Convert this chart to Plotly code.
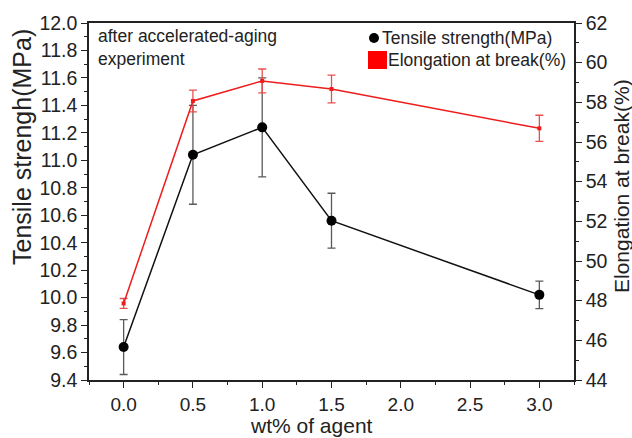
import plotly.graph_objects as go

# ---- data ----
wt = [0.0, 0.5, 1.0, 1.5, 3.0]
tensile = [9.64, 11.04, 11.24, 10.56, 10.02]
tensile_err = [0.20, 0.36, 0.36, 0.20, 0.10]
elong = [47.86, 58.07, 59.08, 58.67, 56.69]
elong_err = [0.25, 0.55, 0.60, 0.70, 0.66]

x_ticks = [0.0, 0.5, 1.0, 1.5, 2.0, 2.5, 3.0]
y1_ticks = [9.4 + 0.2 * i for i in range(14)]
y2_ticks = list(range(44, 63, 2))

FONT = "Liberation Sans, Arial, sans-serif"
AX = "#222222"
TXT = "#222222"

fig = go.Figure()

fig.add_trace(go.Scatter(
    x=wt, y=tensile, mode="lines+markers", name="Tensile strength(MPa)",
    line=dict(color="#111111", width=1.5),
    marker=dict(symbol="circle", size=10, color="#000000"),
    error_y=dict(type="data", array=tensile_err, visible=True, color="#5a5a5a", thickness=1.3, width=4),
    showlegend=False, yaxis="y",
))
fig.add_trace(go.Scatter(
    x=wt, y=elong, mode="lines+markers", name="Elongation at break(%)",
    line=dict(color="#ee1c1c", width=1.5),
    marker=dict(symbol="square", size=4, color="#ee1c1c"),
    error_y=dict(type="data", array=elong_err, visible=True, color="#e85050", thickness=1.3, width=4),
    showlegend=False, yaxis="y2",
))

L, R, T, B = 89, 58, 23, 58
W, H = 632, 438
pw = W - L - R
ph = H - T - B

def px_to_paper_x(px):
    return (px - L) / pw

def px_to_paper_y(py):
    return (H - B - py) / ph

fig.update_layout(
    width=W, height=H,
    margin=dict(l=L, r=R, t=T, b=B, pad=0, autoexpand=False),
    paper_bgcolor="white", plot_bgcolor="white",
    font=dict(family=FONT, color=TXT, size=19),
    showlegend=False,
    xaxis=dict(
        range=[-0.25, 3.25], tickvals=x_ticks, ticktext=[f"{v:.1f}" for v in x_ticks],
        automargin=False,
        showgrid=False, zeroline=False, showline=True, linecolor=AX, linewidth=1.5,
        mirror=True, ticks="outside", ticklen=6, tickwidth=1.3, tickcolor=AX,
        minor=dict(ticks="outside", ticklen=3.5, tickwidth=1.2, tickcolor=AX, dtick=0.25, tick0=0),
        tickfont=dict(size=19),
    ),
    yaxis=dict(
        range=[9.4, 12.0], tickvals=y1_ticks, ticktext=[f"{v:.1f}" for v in y1_ticks],
        automargin=False,
        showgrid=False, zeroline=False, showline=True, linecolor=AX, linewidth=1.5,
        ticks="outside", ticklen=6, tickwidth=1.3, tickcolor=AX,
        minor=dict(ticks="outside", ticklen=3.5, tickwidth=1.2, tickcolor=AX, dtick=0.1, tick0=9.4),
        tickfont=dict(size=19.5),
    ),
    yaxis2=dict(
        range=[44, 62], tickvals=y2_ticks, ticktext=[str(v) for v in y2_ticks],
        overlaying="y", side="right", anchor="x", automargin=False,
        showgrid=False, zeroline=False, showline=True, linecolor=AX, linewidth=1.5,
        ticks="outside", ticklen=6, tickwidth=1.3, tickcolor=AX,
        minor=dict(ticks="outside", ticklen=3.5, tickwidth=1.2, tickcolor=AX, dtick=1, tick0=44),
        tickfont=dict(size=19.5),
    ),
)

# axis titles (placed as in the reference, which are off-centre)
fig.add_annotation(xref="paper", yref="paper", x=px_to_paper_x(311), y=px_to_paper_y(425.5),
                   xanchor="center", yanchor="middle", showarrow=False, borderpad=0,
                   text="wt% of agent", font=dict(size=21, color=TXT))
fig.add_annotation(xref="paper", yref="paper", x=px_to_paper_x(22), y=px_to_paper_y(147),
                   xanchor="center", yanchor="middle", showarrow=False, textangle=-90,
                   text="Tensile strengh(MPa)", font=dict(size=25, color=TXT))
fig.add_annotation(xref="paper", yref="paper", x=px_to_paper_x(621), y=px_to_paper_y(186),
                   xanchor="center", yanchor="middle", showarrow=False, textangle=-90,
                   text="Elongation at break(%)", font=dict(size=21, color=TXT))

# annotation text
fig.add_annotation(
    xref="paper", yref="paper", x=px_to_paper_x(96), y=px_to_paper_y(48),
    xanchor="left", yanchor="middle", align="left", showarrow=False,
    text="after accelerated-aging<br>experiment", font=dict(size=17.5, color=TXT),
)

# manual legend
fig.add_shape(type="circle", xref="paper", yref="paper", xsizemode="pixel", ysizemode="pixel",
              xanchor=px_to_paper_x(374), yanchor=px_to_paper_y(38), x0=-5, x1=5, y0=-5, y1=5,
              fillcolor="#000000", line=dict(width=0))
fig.add_shape(type="rect", xref="paper", yref="paper", xsizemode="pixel", ysizemode="pixel",
              xanchor=px_to_paper_x(377.5), yanchor=px_to_paper_y(60), x0=-9.5, x1=9.5, y0=-9, y1=9,
              fillcolor="#ff0000", line=dict(width=0))
fig.add_annotation(xref="paper", yref="paper", x=px_to_paper_x(380), y=px_to_paper_y(38),
                   xanchor="left", yanchor="middle", showarrow=False,
                   text="Tensile strength(MPa)", font=dict(size=17.5, color=TXT))
fig.add_annotation(xref="paper", yref="paper", x=px_to_paper_x(386), y=px_to_paper_y(60),
                   xanchor="left", yanchor="middle", showarrow=False,
                   text="Elongation at break(%)", font=dict(size=17.5, color=TXT))

fig.write_html("out.html")
